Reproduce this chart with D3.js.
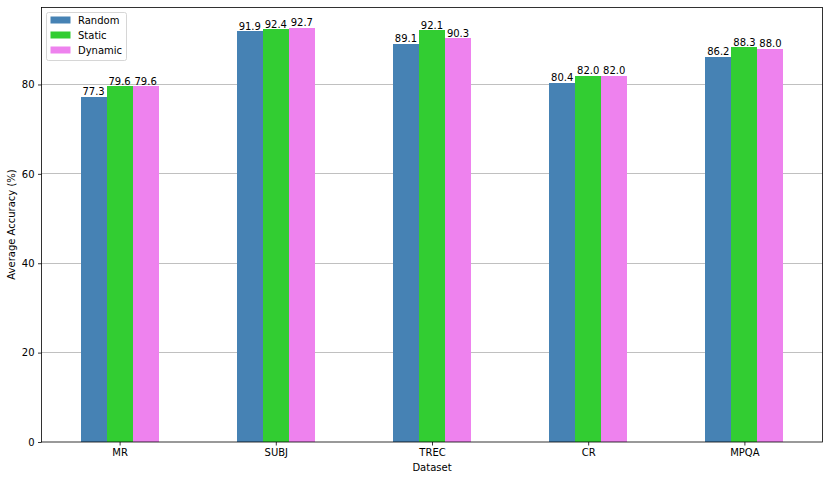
<!DOCTYPE html>
<html><head><meta charset="utf-8">
<script src="https://cdn.jsdelivr.net/npm/d3@7"></script>
<style>body{margin:0;background:#fff}svg{display:block}text{font-family:"DejaVu Sans",sans-serif}</style>
</head><body>
<svg id="c" width="829" height="480"></svg>
<script>
const categories = ["MR","SUBJ","TREC","CR","MPQA"];
const seriesNames = ["Random","Static","Dynamic"];
const randomVals = [77.3,91.9,89.1,80.4,86.2];
const staticVals = [79.6,92.4,92.1,82.0,88.3];
const dynamicVals = [79.6,92.7,90.3,82.0,88.0];
const colors = ["#4682b4","#32cd32","#ee82ee"];
const yTicks = [0,20,40,60,80];

const series = [randomVals, staticVals, dynamicVals];
const svg = d3.select("#c");
const L = 41.5, R = 822.5, T = 7, B = 442;
const x = d3.scaleLinear().domain([-0.5, 4.5]).range([L, R]);
const y = d3.scaleLinear().domain([0, 97.335]).range([B, T]);
const bw = 0.5/3;

// grid
svg.append("g").selectAll("line").data(yTicks.filter(d=>d>0)).join("line")
  .attr("x1",L).attr("x2",R).attr("y1",d=>Math.floor(y(d))+0.5).attr("y2",d=>Math.floor(y(d))+0.5)
  .attr("stroke","#b0b0b0").attr("stroke-width",0.8);

// bars
series.forEach((vals, si) => {
  const g = svg.append("g");
  g.selectAll("rect").data(vals).join("rect")
    .attr("x",(d,i)=>x(i - 0.25 + si*bw))
    .attr("width",x(bw)-x(0))
    .attr("y",d=>y(d)).attr("height",d=>y(0)-y(d))
    .attr("fill",colors[si]).attr("shape-rendering","crispEdges");
  g.selectAll("text").data(vals).join("text")
    .attr("x",(d,i)=>x(i - 0.25 + si*bw + bw/2))
    .attr("y",d=>y(d)-1.5)
    .attr("text-anchor","middle").attr("font-size",10).attr("fill","#000")
    .text(d=>d.toFixed(1));
});

// axes
const xa = svg.append("g").attr("transform",`translate(0,${B})`)
  .call(d3.axisBottom(x).tickValues(d3.range(categories.length)).tickFormat(i=>categories[i]).tickSize(3.5).tickPadding(3.5));
const ya = svg.append("g").attr("transform",`translate(${L},0)`)
  .call(d3.axisLeft(y).tickValues(yTicks).tickSize(3.5).tickPadding(3.5));
[xa,ya].forEach(a=>{a.select(".domain").remove();a.selectAll("text").attr("font-size",10).attr("fill","#000").attr("font-family","DejaVu Sans");a.selectAll("line").attr("stroke","#000").attr("stroke-width",0.8);});

// frame
svg.append("rect").attr("x",L).attr("y",T+0.5).attr("width",R-L).attr("height",B-T-0.5)
  .attr("fill","none").attr("stroke","#000").attr("stroke-width",0.8);

// labels
svg.append("text").attr("x",(L+R)/2).attr("y",471).attr("text-anchor","middle").attr("font-size",10).text("Dataset");
svg.append("text").attr("transform",`translate(14.5,${(T+B)/2}) rotate(-90)`).attr("text-anchor","middle").attr("font-size",10).text("Average Accuracy (%)");

// legend
const lg = svg.append("g").attr("transform","translate(46.5,12.5)");
lg.append("rect").attr("width",80).attr("height",48).attr("rx",2).attr("fill","#fff").attr("fill-opacity",0.8).attr("stroke","#cccccc").attr("stroke-width",0.8);
seriesNames.forEach((n,i)=>{
  lg.append("rect").attr("x",4).attr("y",4+i*15).attr("width",20).attr("height",7).attr("fill",colors[i]);
  lg.append("text").attr("x",31.5).attr("y",11.5+i*15).attr("font-size",10).text(n);
});
</script>
</body></html>
